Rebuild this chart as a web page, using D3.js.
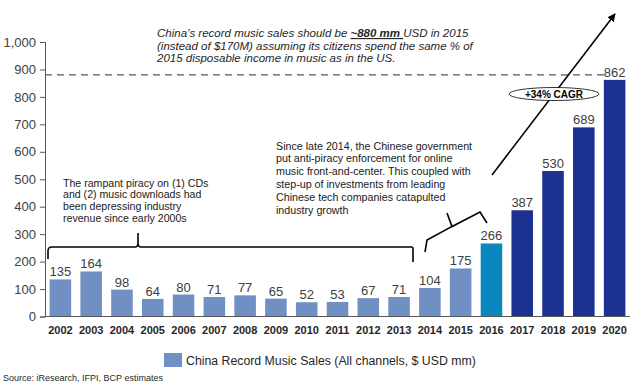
<!DOCTYPE html>
<html><head><meta charset="utf-8">
<script src="https://cdn.jsdelivr.net/npm/d3@7"></script>
<style>body{margin:0;background:#fff}svg{display:block;font-family:Arial,"Liberation Sans",sans-serif}</style>
</head><body>
<svg id="c" width="640" height="384"></svg>
<script>
const years = ["2002","2003","2004","2005","2006","2007","2008","2009","2010","2011","2012","2013","2014","2015","2016","2017","2018","2019","2020"];
const sales = [135,164,98,64,80,71,77,65,52,53,67,71,104,175,266,387,530,689,862];
const yTicks = [0,100,200,300,400,500,600,700,800,900,1000];
const targetValue = 880;
const legendLabel = "China Record Music Sales (All channels, $ USD mm)";
const sourceText = "Source: iResearch, IFPI, BCP estimates";
const noteLeft = ["The rampant piracy on (1) CDs","and (2) music downloads had","been depressing industry","revenue since early 2000s"];
const noteRight = ["Since late 2014, the Chinese government","put anti-piracy enforcement for online","music front-and-center. This coupled with","step-up of investments from leading","Chinese tech companies catapulted","industry growth"];

const svg = d3.select("#c");
const x = d3.scaleBand().domain(years).range([45,630]).paddingInner(0.3).paddingOuter(0.15);
const y = d3.scaleLinear().domain([0,1000]).range([316.5,42]);

function color(yr){ const n=+yr; return n<=2015?"#7090c3":(n===2016?"#0a87bf":"#1d3192"); }

// y axis
const ya = svg.append("g").attr("transform","translate(45,0)")
  .call(d3.axisLeft(y).tickValues(yTicks).tickFormat(d3.format(",")).tickSize(5).tickPadding(4));
ya.selectAll("path,line").attr("stroke","#595959");
ya.selectAll("text").attr("font-size",13).attr("fill","#404040").attr("font-family","Arial,'Liberation Sans',sans-serif");

// bars
svg.selectAll("rect.bar").data(years).enter().append("rect").attr("class","bar")
  .attr("x",d=>x(d)).attr("width",x.bandwidth())
  .attr("y",(d,i)=>y(sales[i])).attr("height",(d,i)=>y(0)-y(sales[i]))
  .attr("fill",d=>color(d));

// value labels
svg.selectAll("text.val").data(years).enter().append("text").attr("class","val")
  .attr("x",d=>x(d)+x.bandwidth()/2).attr("y",(d,i)=>y(sales[i])-3)
  .attr("text-anchor","middle").attr("font-size",13).attr("fill","#404040")
  .text((d,i)=>sales[i]);

// x axis
svg.append("line").attr("x1",45).attr("x2",630).attr("y1",y(0)).attr("y2",y(0)).attr("stroke","#595959");
svg.selectAll("text.yr").data(years).enter().append("text").attr("class","yr")
  .attr("x",d=>x(d)+x.bandwidth()/2).attr("y",334)
  .attr("text-anchor","middle").attr("font-size",11).attr("font-weight","bold").attr("fill","#262626")
  .text(d=>d);

// dashed target line
svg.append("line").attr("x1",45).attr("x2",604).attr("y1",y(targetValue)).attr("y2",y(targetValue))
  .attr("stroke","#55557f").attr("stroke-width",1.2).attr("stroke-dasharray","7,5");

// top note
const tn = svg.append("text").attr("font-size",11.5).attr("font-style","italic").attr("fill","#262626");
const l1 = tn.append("tspan").attr("x",157).attr("y",37);
l1.append("tspan").text("China\u2019s record music sales should be ");
l1.append("tspan").attr("font-weight","bold").attr("text-decoration","underline").text("~880 mm ");
l1.append("tspan").text("USD in 2015");
tn.append("tspan").attr("x",157).attr("y",49.5).text("(instead of $170M) assuming its citizens spend the same % of");
tn.append("tspan").attr("x",157).attr("y",62).text("2015 disposable income in music as in the US.");

// arrow
const defs = svg.append("defs");
defs.append("marker").attr("id","ah").attr("viewBox","0 0 10 10").attr("refX",9).attr("refY",5)
  .attr("markerWidth",5).attr("markerHeight",5).attr("orient","auto")
  .append("path").attr("d","M0,0L10,5L0,10z").attr("fill","#000");
svg.append("line").attr("x1",492).attr("y1",175).attr("x2",615).attr("y2",14)
  .attr("stroke","#000").attr("stroke-width",1.6).attr("marker-end","url(#ah)");

// CAGR ellipse
svg.append("ellipse").attr("cx",554).attr("cy",94).attr("rx",45).attr("ry",6.5)
  .attr("fill","#fff").attr("stroke","#000").attr("stroke-width",0.8);
svg.append("text").attr("x",554).attr("y",97.5).attr("text-anchor","middle")
  .attr("font-size",10).attr("font-weight","bold").attr("fill","#000").text("+34% CAGR");

// left note
const ln = svg.append("text").attr("font-size",10.6).attr("fill","#1a1a1a");
noteLeft.forEach((t,i)=>ln.append("tspan").attr("x",63).attr("y",186.5+i*11.9).text(t));

// right note
const rn = svg.append("text").attr("font-size",10.7).attr("fill","#1a1a1a");
noteRight.forEach((t,i)=>rn.append("tspan").attr("x",276).attr("y",149.5+i*12.8).text(t));

// left bracket
svg.append("path").attr("fill","none").attr("stroke","#000").attr("stroke-width",1.6)
  .attr("d","M48,259 L48,251 Q48,247 52,247 L135,247 Q138,247 138,243 L138,233 L138,243 Q138,247 141,247 L412,247 Q413,247 413,249 L413,262");

// right bracket (rotated)
svg.append("path").attr("fill","none").attr("stroke","#000").attr("stroke-width",1.6)
  .attr("d","M425,252 L427,240 L452,226.5 L447,213 L452,226.5 L480,212 L487,223");

// legend
svg.append("rect").attr("x",164).attr("y",353).attr("width",18).attr("height",14).attr("fill","#7090c3");
svg.append("text").attr("x",186).attr("y",364.5).attr("font-size",12.3).attr("fill","#262626").text(legendLabel);

// source
svg.append("text").attr("x",3).attr("y",381).attr("font-size",9).attr("fill","#262626").text(sourceText);
</script>
</body></html>
